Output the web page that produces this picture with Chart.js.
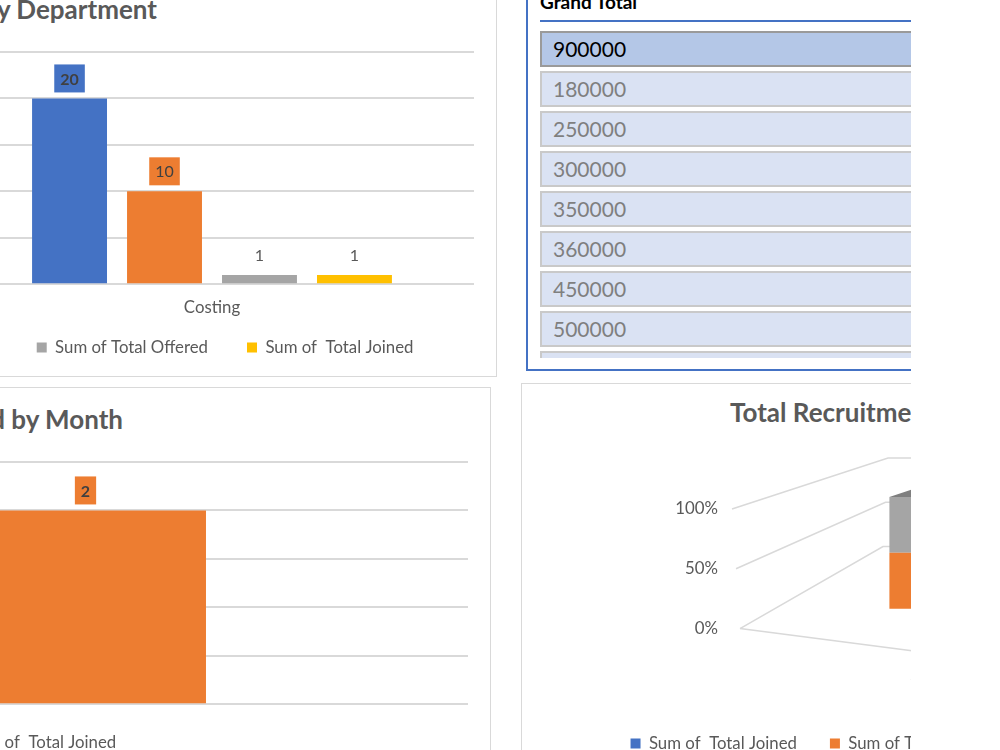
<!DOCTYPE html>
<html>
<head>
<meta charset="utf-8">
<script src="https://cdn.jsdelivr.net/npm/chart.js@4.4.1/dist/chart.umd.min.js"></script>
<style>
body { margin: 0; background: #fff; font-family: Lato, "Open Sans", sans-serif; }
#page { position: relative; width: 1000px; height: 750px; overflow: hidden; background: #fff; }
.panel { position: absolute; border: 1px solid #D9D9D9; box-sizing: border-box; }
.title { position: absolute; font-weight: bold; font-size: 26px; line-height: 1.2; color: #595959; white-space: nowrap; }
canvas { position: absolute; }
#slicer { position: absolute; left: 526px; top: -30px; width: 500px; height: 401px; border: 2px solid #4472C4; box-sizing: border-box; }
#slicerHead { position: absolute; left: 540px; top: -10px; font-weight: bold; font-size: 19px; line-height: 24px; color: #000; white-space: nowrap; }
#slicerLine { position: absolute; left: 540px; top: 20px; width: 400px; height: 2px; background: #4472C4; }
#slicerList { position: absolute; left: 540px; top: 31px; width: 420px; height: 327px; overflow: hidden; }
.item { height: 36px; box-sizing: border-box; border: 2px solid #C9C9C9; background: #DAE2F3; margin-bottom: 4px;
        padding-left: 11px; font-size: 21px; line-height: 32px; color: #7F7F7F; }
.item.sel { background: #B4C7E7; border-color: #9A9A9A; color: #000; }
#cut { position: absolute; left: 911px; top: 0; width: 89px; height: 750px; background: #fff; z-index: 10; }
</style>
</head>
<body>
<div id="page">
  <div class="panel" style="left:-520px;top:-40px;width:1017px;height:417px;"></div>
  <div class="panel" style="left:-500px;top:387px;width:991px;height:400px;"></div>
  <div class="panel" style="left:521px;top:383px;width:600px;height:400px;"></div>
  <div id="slicer"></div>
  <div id="slicerHead">Grand Total</div>
  <div id="slicerLine"></div>
  <div id="slicerList"></div>

  <div class="title" style="right:843px;top:-6px;">Total Recruitment by Department</div>
  <div class="title" style="right:877px;top:404px;">Total Joined by Month</div>
  <div class="title" style="left:730px;top:397px;">Total Recruitment Status</div>

  <canvas id="deptChart" width="962" height="376" style="left:-466px;top:0px;"></canvas>
  <canvas id="monthChart" width="892" height="374" style="left:-402px;top:387px;"></canvas>
  <canvas id="statusChart" width="802" height="379" style="left:521px;top:383px;"></canvas>
  <div id="cut"></div>
</div>
<script>
// ---- data ----
var deptLabels = ['Costing'];
var deptSeries = ['Sum of Total Applied', 'Sum of Total Shortlisted', 'Sum of Total Offered', 'Sum of  Total Joined'];
var deptApplied = [20];
var deptShortlisted = [10];
var deptOffered = [1];
var deptJoined = [1];

var monthLabels = ['Jan'];
var monthSeries = 'Sum of  Total Joined';
var monthJoined = [2];

var statusLabels = ['Sales'];
var statusSeries = ['Sum of  Total Joined', 'Sum of Total Offered', 'Sum of Total Declined'];
var statusJoined = [0];
var statusOffered = [1];
var statusDeclined = [1];

var slicerValues = ['900000', '180000', '250000', '300000', '350000', '360000', '450000', '500000', '600000'];
var slicerSelected = '900000';

var BLUE = '#4472C4', ORANGE = '#ED7D31', GRAY = '#A5A5A5', GOLD = '#FFC000';
var TXT = '#595959', GRID = '#D9D9D9';
var FS = 16.8;

Chart.defaults.font.family = 'Lato, "Open Sans", sans-serif';
Chart.defaults.color = TXT;

// slicer list
var list = document.getElementById('slicerList');
slicerValues.forEach(function (v) {
    var d = document.createElement('div');
    d.className = 'item' + (v === slicerSelected ? ' sel' : '');
    d.textContent = v;
    list.appendChild(d);
});

// value labels above bars, optionally on a coloured box
var barLabels = {
    id: 'barLabels',
    afterDatasetsDraw: function (chart) {
        var ctx = chart.ctx;
        chart.data.datasets.forEach(function (ds, i) {
            var st = ds.valueLabel;
            if (!st) return;
            chart.getDatasetMeta(i).data.forEach(function (bar, j) {
                var txt = String(ds.data[j]);
                var cy = bar.y - 20;
                ctx.save();
                ctx.font = (st.bold ? 'bold ' : '') + '16px Lato, sans-serif';
                if (st.box) {
                    var w = ctx.measureText(txt).width + 12;
                    ctx.fillStyle = ds.backgroundColor;
                    ctx.fillRect(bar.x - w / 2, cy - 14, w, 28);
                    ctx.fillStyle = '#404040';
                } else {
                    ctx.fillStyle = TXT;
                }
                ctx.textAlign = 'center';
                ctx.textBaseline = 'middle';
                ctx.fillText(txt, bar.x, cy + 1);
                ctx.restore();
            });
        });
    }
};

var legendOpts = function (pad) {
    return { position: 'bottom', labels: { boxWidth: 10, boxHeight: 10, padding: pad, color: TXT, font: { size: FS } } };
};

// wider item spacing for the department legend; the empty title pulls the row up again
var deptLegend = legendOpts(39);
deptLegend.title = { display: true, text: '', font: { size: 12 }, padding: { top: 0, bottom: -31.4 } };

new Chart(document.getElementById('deptChart'), {
    type: 'bar',
    data: {
        labels: deptLabels,
        datasets: [
            { label: deptSeries[0], data: deptApplied, backgroundColor: BLUE, valueLabel: { box: true, bold: true } },
            { label: deptSeries[1], data: deptShortlisted, backgroundColor: ORANGE, valueLabel: { box: true } },
            { label: deptSeries[2], data: deptOffered, backgroundColor: GRAY, valueLabel: {} },
            { label: deptSeries[3], data: deptJoined, backgroundColor: GOLD, valueLabel: {} }
        ]
    },
    options: {
        responsive: false, animation: false, devicePixelRatio: 1,
        layout: { padding: { left: 0, right: 22, top: 52, bottom: 10 } },
        datasets: { bar: { categoryPercentage: 0.725, barPercentage: 0.789 } },
        scales: {
            x: { grid: { display: false, drawTicks: false }, border: { display: false },
                 ticks: { color: TXT, font: { size: FS }, padding: 13 },
                 afterFit: function (s) { s.height = 33; } },
            y: { min: 0, max: 25, ticks: { display: false, stepSize: 5 },
                 grid: { color: GRID, lineWidth: 2, drawTicks: false }, border: { display: false },
                 afterFit: function (s) { s.width = 416; } }
        },
        plugins: { legend: deptLegend, tooltip: { enabled: false } }
    },
    plugins: [barLabels]
});

new Chart(document.getElementById('monthChart'), {
    type: 'bar',
    data: {
        labels: monthLabels,
        datasets: [
            { label: monthSeries, data: monthJoined, backgroundColor: ORANGE, valueLabel: { box: true, bold: true } }
        ]
    },
    options: {
        responsive: false, animation: false, devicePixelRatio: 1,
        layout: { padding: { left: 0, right: 22, top: 75, bottom: 0 } },
        datasets: { bar: { categoryPercentage: 1, barPercentage: 0.315 } },
        scales: {
            x: { display: false },
            y: { min: 0, max: 2.5, ticks: { display: false, stepSize: 0.5 },
                 grid: { color: GRID, lineWidth: 2, drawTicks: false }, border: { display: false },
                 afterFit: function (s) { s.width = 105; } }
        },
        plugins: { legend: legendOpts(30), tooltip: { enabled: false } }
    },
    plugins: [barLabels]
});

// 100% stacked "3D" column: walls and floor drawn from the y scale
var walls3d = {
    id: 'walls3d',
    beforeDatasetsDraw: function (chart, args, o) {
        var ctx = chart.ctx, a = chart.chartArea, y = chart.scales.y;
        var y0 = y.getPixelForValue(0);
        ctx.save();
        ctx.strokeStyle = GRID;
        ctx.lineWidth = 1.5;
        [0, 50, 100].forEach(function (v) {
            var fy = y.getPixelForValue(v);
            var fx = a.left + 4 + (100 - v) * 0.08;
            var bx = a.left + o.backX - (100 - v) * 0.05;
            var by = y0 + o.backY0 - (y0 - fy) * o.depth;
            ctx.beginPath();
            ctx.moveTo(fx, fy);
            ctx.lineTo(bx, by);
            ctx.lineTo(a.right, by);
            ctx.stroke();
        });
        ctx.beginPath();
        ctx.moveTo(a.left + 12, y0);
        ctx.lineTo(a.right, y0 + (a.right - a.left - 12) * o.floorSlope);
        ctx.stroke();
        ctx.restore();
    },
    afterDatasetsDraw: function (chart, args, o) {
        var ctx = chart.ctx, top = null;
        chart.data.datasets.forEach(function (ds, i) {
            chart.getDatasetMeta(i).data.forEach(function (bar, j) {
                if (ds.data[j] > 0) top = bar;
            });
        });
        if (!top) return;
        var l = top.x - top.width / 2, r = top.x + top.width / 2;
        ctx.save();
        ctx.fillStyle = o.topColor;
        ctx.beginPath();
        ctx.moveTo(l, top.y);
        ctx.lineTo(l + o.dx, top.y - o.dy);
        ctx.lineTo(r + o.dx, top.y - o.dy);
        ctx.lineTo(r, top.y);
        ctx.closePath();
        ctx.fill();
        ctx.restore();
    }
};

var totals = statusLabels.map(function (_, i) { return statusJoined[i] + statusOffered[i] + statusDeclined[i]; });
var pct = function (arr) { return arr.map(function (v, i) { return v / totals[i] * 100; }); };

new Chart(document.getElementById('statusChart'), {
    type: 'bar',
    data: {
        labels: statusLabels,
        datasets: [
            { label: statusSeries[0], data: pct(statusJoined), backgroundColor: BLUE, yAxisID: 'yb' },
            { label: statusSeries[1], data: pct(statusOffered), backgroundColor: ORANGE, yAxisID: 'yb' },
            { label: statusSeries[2], data: pct(statusDeclined), backgroundColor: GRAY, yAxisID: 'yb' }
        ]
    },
    options: {
        responsive: false, animation: false, devicePixelRatio: 1,
        layout: { padding: { left: 0, right: 0, top: 114, bottom: 0 } },
        datasets: { bar: { categoryPercentage: 1, barPercentage: 0.197 } },
        scales: {
            x: { stacked: true, grid: { display: false, drawTicks: false }, border: { display: false },
                 ticks: { color: TXT, font: { size: FS }, padding: 37 },
                 afterFit: function (s) { s.height = 73.6; } },
            y: { min: 0, max: 110, grid: { display: false, drawTicks: false }, border: { display: false },
                 ticks: { color: TXT, font: { size: FS }, padding: 10, callback: function (v) { return v + '%'; } },
                 afterBuildTicks: function (s) { s.ticks = [{ value: 0 }, { value: 50 }, { value: 100 }]; },
                 afterFit: function (s) { s.width = 207; } },
            yb: { type: 'linear', position: 'right', stacked: true, min: -17.86, max: 100,
                  ticks: { display: false }, grid: { display: false, drawTicks: false }, border: { display: false },
                  afterFit: function (s) { s.width = 193; } }
        },
        plugins: {
            legend: legendOpts(33), tooltip: { enabled: false },
            walls3d: { backX: 160, backY0: -82, depth: 0.74, floorSlope: 0.129, dx: 30, dy: 10, topColor: '#7F7F7F' }
        }
    },
    plugins: [walls3d]
});
</script>
</body>
</html>
